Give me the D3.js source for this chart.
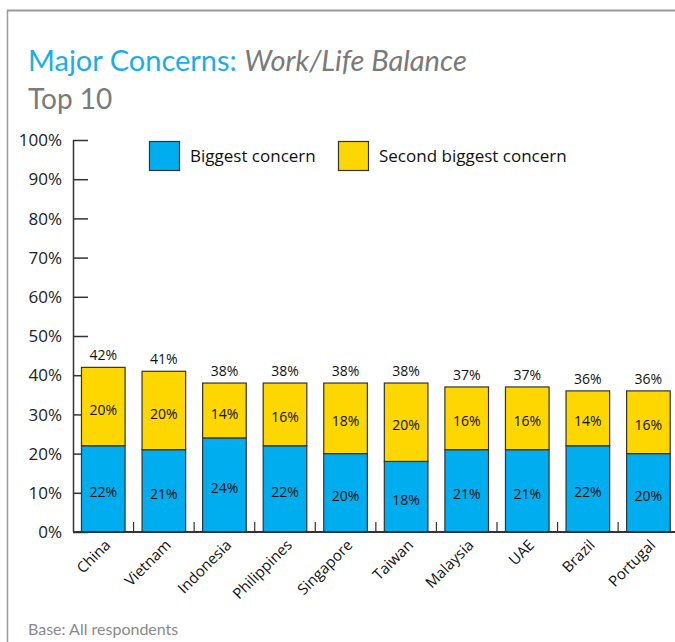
<!DOCTYPE html>
<html>
<head>
<meta charset="utf-8">
<script src="https://cdn.jsdelivr.net/npm/d3@7"></script>
<style>
  html, body { margin: 0; padding: 0; background: #fff; }
  svg { display: block; font-family: "Open Sans", "Noto Sans", sans-serif; }
</style>
</head>
<body>
<svg id="chart" width="675" height="642"></svg>
<script>
const categories = ["China", "Vietnam", "Indonesia", "Philippines", "Singapore", "Taiwan", "Malaysia", "UAE", "Brazil", "Portugal"];
const biggest = [22, 21, 24, 22, 20, 18, 21, 21, 22, 20];
const second = [20, 20, 14, 16, 18, 20, 16, 16, 14, 16];
const totals = [42, 41, 38, 38, 38, 38, 37, 37, 36, 36];
const yTicks = [0, 10, 20, 30, 40, 50, 60, 70, 80, 90, 100];
const seriesNames = ["Biggest concern", "Second biggest concern"];

const BLUE = "#00aeef", YELLOW = "#ffd700", OUTLINE = "#333";
const svg = d3.select("#chart");

// frame
svg.append("line").attr("x1", 7).attr("x2", 675).attr("y1", 10.5).attr("y2", 10.5).attr("stroke", "#9a9a9a").attr("stroke-width", 2);
svg.append("line").attr("x1", 7.5).attr("x2", 7.5).attr("y1", 10).attr("y2", 642).attr("stroke", "#9a9a9a").attr("stroke-width", 1.5);

// title
const t = svg.append("text").attr("x", 28).attr("y", 71).attr("font-family", "Lato, 'Open Sans', sans-serif").attr("font-size", 29);
t.append("tspan").attr("fill", "#1aaee8").text("Major Concerns: ");
t.append("tspan").attr("fill", "#7a7a7a").attr("font-style", "italic").text("Work/Life Balance");
svg.append("text").attr("x", 28).attr("y", 109).attr("font-family", "Lato, 'Open Sans', sans-serif").attr("font-size", 28).attr("fill", "#7a7a7a").text("Top 10");

const x0 = 73, x1 = 678.7;
const x = d3.scaleBand().domain(categories).range([x0, x1]).paddingInner(0.28).paddingOuter(0.14);
const y = d3.scaleLinear().domain([0, 100]).range([532, 140]);

// y axis
const yAxis = d3.axisRight(y).tickValues(yTicks).tickSize(15).tickFormat("");
const gy = svg.append("g").attr("transform", `translate(${x0},0)`).call(yAxis);
gy.select(".domain").attr("stroke", OUTLINE).attr("stroke-width", 1.5).attr("d", `M0.5,${y(100)}V${y(0)}`);
gy.selectAll(".tick line").attr("stroke", OUTLINE).attr("stroke-width", 1.5);
svg.append("g").selectAll("text").data(yTicks).join("text")
  .attr("x", 62).attr("y", d => y(d)).attr("dy", "0.36em")
  .attr("text-anchor", "end").attr("font-size", 17).attr("fill", "#222")
  .text(d => d + "%");

// x axis ticks between bars
const boundaries = categories.slice(1).map(c => x(c) - x.step() * x.paddingInner() / 2);
svg.append("g").selectAll("line").data(boundaries).join("line")
  .attr("x1", d => d).attr("x2", d => d).attr("y1", 522).attr("y2", 532)
  .attr("stroke", OUTLINE).attr("stroke-width", 1.2);

// bars
const data = categories.map((c, i) => ({ c, b: biggest[i], s: second[i], t: totals[i] }));
const g = svg.append("g");
g.selectAll("rect.b").data(data).join("rect").attr("class", "b")
  .attr("x", d => x(d.c)).attr("width", x.bandwidth())
  .attr("y", d => y(d.b)).attr("height", d => y(0) - y(d.b))
  .attr("fill", BLUE).attr("stroke", OUTLINE).attr("stroke-width", 1.2);
g.selectAll("rect.s").data(data).join("rect").attr("class", "s")
  .attr("x", d => x(d.c)).attr("width", x.bandwidth())
  .attr("y", d => y(d.b + d.s)).attr("height", d => y(d.b) - y(d.b + d.s))
  .attr("fill", YELLOW).attr("stroke", OUTLINE).attr("stroke-width", 1.2);

// x axis line
svg.append("line").attr("x1", x0).attr("x2", 675).attr("y1", 532).attr("y2", 532).attr("stroke", OUTLINE).attr("stroke-width", 2);

// labels
g.selectAll("text.bl").data(data).join("text").attr("class", "bl")
  .attr("x", d => x(d.c) + x.bandwidth() / 2).attr("y", d => (y(0) + y(d.b)) / 2 + 3).attr("dy", "0.36em")
  .attr("text-anchor", "middle").attr("font-size", 14).attr("fill", "#111").text(d => d.b + "%");
g.selectAll("text.sl").data(data).join("text").attr("class", "sl")
  .attr("x", d => x(d.c) + x.bandwidth() / 2).attr("y", d => (y(d.b) + y(d.b + d.s)) / 2 + 3).attr("dy", "0.36em")
  .attr("text-anchor", "middle").attr("font-size", 14).attr("fill", "#111").text(d => d.s + "%");
g.selectAll("text.tl").data(data).join("text").attr("class", "tl")
  .attr("x", d => x(d.c) + x.bandwidth() / 2).attr("y", d => y(d.b + d.s) - 7)
  .attr("text-anchor", "middle").attr("font-size", 14).attr("fill", "#111").text(d => d.t + "%");

// category labels
svg.append("g").selectAll("text").data(categories).join("text")
  .attr("transform", d => `translate(${x(d) + x.bandwidth() / 2 + 8},${546}) rotate(-45)`)
  .attr("text-anchor", "end").attr("font-size", 15).attr("fill", "#111").text(d => d);

// legend
const legend = [{ n: seriesNames[0], c: BLUE, x: 149, tx: 190 }, { n: seriesNames[1], c: YELLOW, x: 338, tx: 379 }];
const lg = svg.append("g").selectAll("g").data(legend).join("g");
lg.append("rect").attr("x", d => d.x + 0.5).attr("y", 141.5).attr("width", 30).attr("height", 29)
  .attr("fill", d => d.c).attr("stroke", OUTLINE).attr("stroke-width", 1.2);
lg.append("text").attr("x", d => d.tx).attr("y", 162).attr("font-size", 17).attr("fill", "#111").text(d => d.n);

// footnote
svg.append("text").attr("x", 28).attr("y", 635).attr("font-family", "Lato, 'Open Sans', sans-serif").attr("font-size", 16).attr("fill", "#8a8a8a").text("Base: All respondents");
</script>
</body>
</html>
